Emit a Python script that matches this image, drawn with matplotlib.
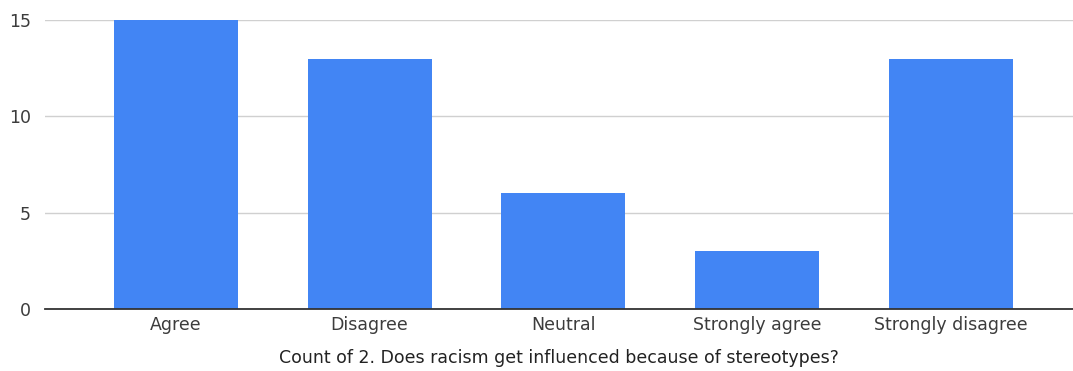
import matplotlib
matplotlib.use("Agg")
import matplotlib.pyplot as plt

# survey responses: "2. Does racism get influenced because of stereotypes?"
answers = ["Agree", "Disagree", "Neutral", "Strongly agree", "Strongly disagree"]
counts = [15, 13, 6, 3, 13]
yticks = [0, 5, 10, 15]

plt.rcParams["font.family"] = ["DejaVu Sans"]

fig = plt.figure(figsize=(10.73, 3.71), dpi=100)
ax = fig.add_axes([45 / 1073, 1 - 309 / 371, 1028 / 1073, 289 / 371])

x = range(len(answers))
ax.bar(x, counts, width=0.64, color="#4285f4", zorder=3)

ax.set_xlim(-0.675, 4.63)
ax.set_ylim(0, 15)
ax.set_yticks(yticks)
ax.set_xticks(list(x))
ax.set_xticklabels(answers)
ax.tick_params(axis="both", length=0, labelsize=12.5, colors="#3c3c3c")
ax.tick_params(axis="y", pad=10)
ax.tick_params(axis="x", pad=5)

ax.grid(axis="y", color="#d0d0d0", linewidth=1, zorder=0)
for side in ("top", "right", "left"):
    ax.spines[side].set_visible(False)
ax.spines["bottom"].set_color("#333333")
ax.spines["bottom"].set_linewidth(1.3)
ax.spines["bottom"].set_zorder(4)

ax.set_xlabel("Count of 2. Does racism get influenced because of stereotypes?",
              fontsize=12.5, color="#222222", labelpad=11)

fig.savefig("out.png", dpi=100)
